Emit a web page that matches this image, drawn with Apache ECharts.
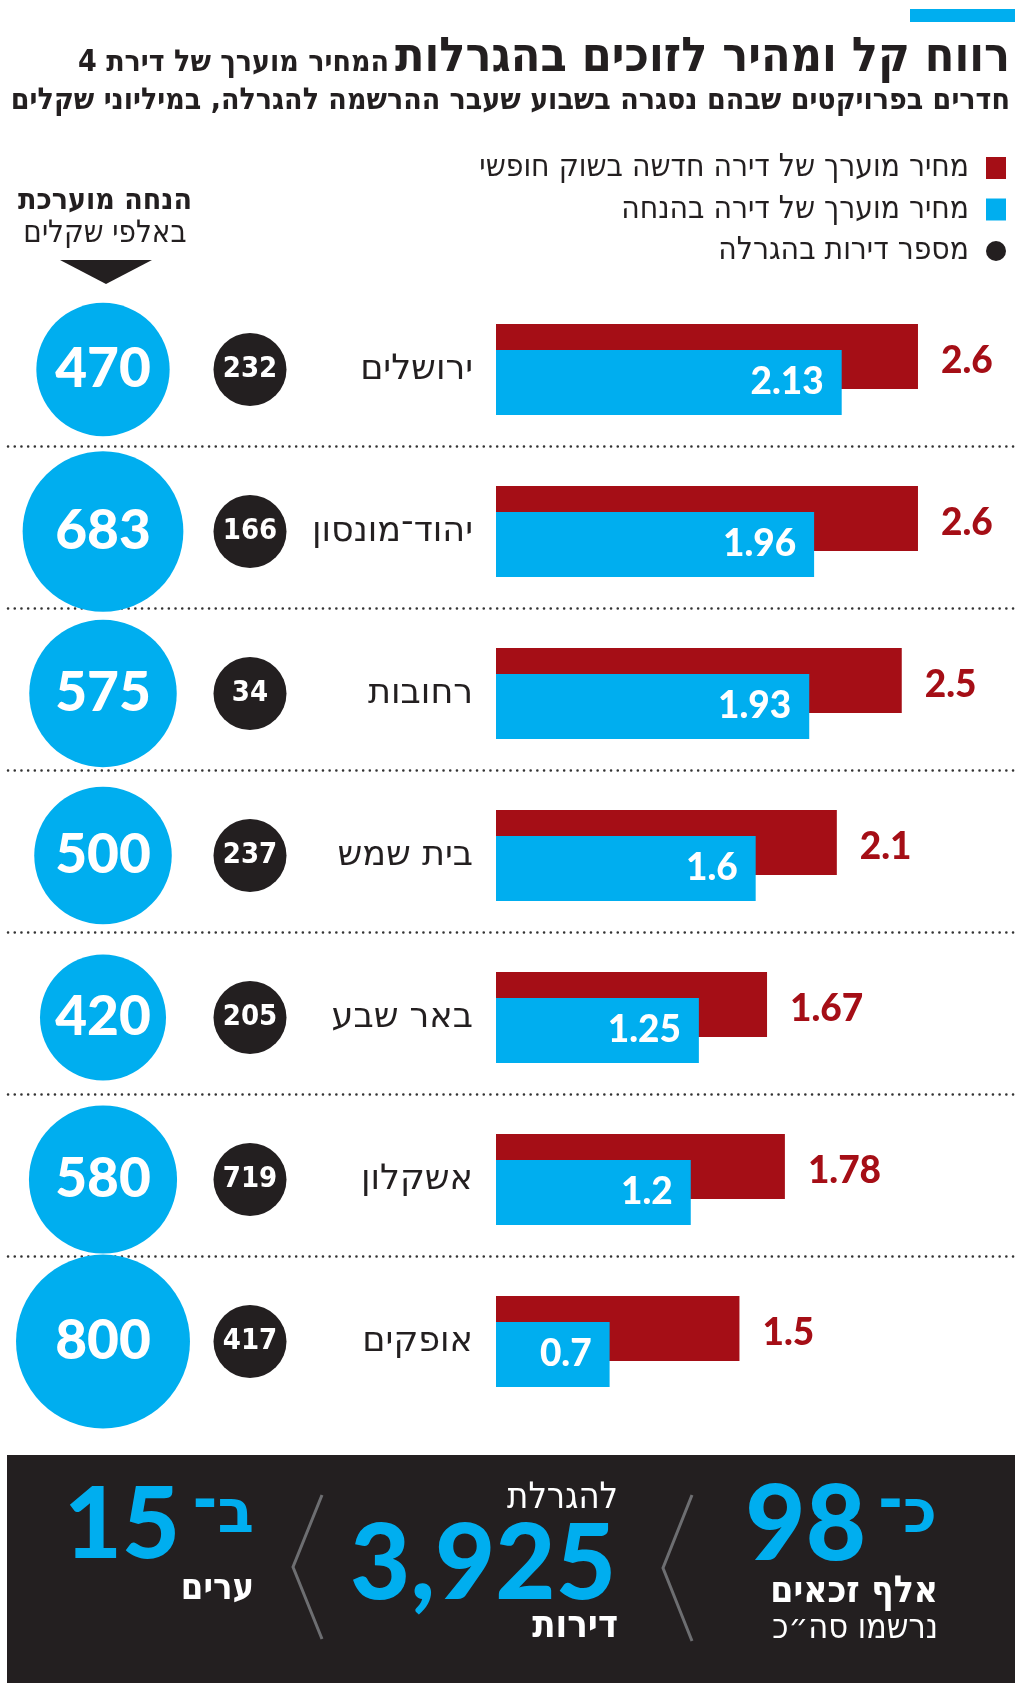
<!DOCTYPE html>
<html lang="he">
<head>
<meta charset="utf-8">
<script src="https://cdn.jsdelivr.net/npm/echarts@6/dist/echarts.min.js"></script>
<style>
html,body{margin:0;padding:0;background:#fff;}
#chart{width:1024px;height:1695px;}
</style>
</head>
<body>
<div id="chart"></div>
<script>
// ---------- data ----------
const cities = ['ירושלים', 'יהוד־מונסון', 'רחובות', 'בית שמש', 'באר שבע', 'אשקלון', 'אופקים'];
const marketPrice = [2.6, 2.6, 2.5, 2.1, 1.67, 1.78, 1.5];      // מחיר מוערך של דירה חדשה בשוק חופשי (מיליוני ש"ח)
const discountPrice = [2.13, 1.96, 1.93, 1.6, 1.25, 1.2, 0.7];  // מחיר מוערך של דירה בהנחה
const lotteryUnits = [232, 166, 34, 237, 205, 719, 417];        // מספר דירות בהגרלה
const discountThousands = [470, 683, 575, 500, 420, 580, 800];  // הנחה מוערכת באלפי שקלים
const circleColumns = ['הנחה מוערכת', 'מספר דירות'];

const seriesNames = ['מחיר מוערך של דירה חדשה בשוק חופשי', 'מחיר מוערך של דירה בהנחה', 'מספר דירות בהגרלה'];
const titleMain = 'רווח קל ומהיר לזוכים בהגרלות';
const titleSide = 'המחיר מוערך של דירת 4';
const titleLine2 = 'חדרים בפרויקטים שבהם נסגרה בשבוע שעבר ההרשמה להגרלה, במיליוני שקלים';

// ---------- styles ----------
const RED = '#a50e16', BLUE = '#00aeef', INK = '#231f20';
const HEB = '"DejaVu Sans Condensed", "DejaVu Sans", sans-serif';
const HEB_WIDE = '"DejaVu Sans", sans-serif';
const NUM = 'Lato, "Open Sans", sans-serif';

const chart = echarts.init(document.getElementById('chart'), null, {renderer: 'canvas', width: 1024, height: 1695});

const rowTop = 288.5, rowsH = 1134;

const option = {
  backgroundColor: '#fff',
  animation: false,
  title: {
    right: 9, top: 26,
    text: '{b|' + titleSide + '}{a|' + titleMain + '}\n{c|' + titleLine2 + '}',
    textStyle: {
      rich: {
        a: {fontFamily: HEB, fontWeight: 'bold', fontSize: 48, color: INK, lineHeight: 52, verticalAlign: 'bottom', align: 'right'},
        b: {fontFamily: HEB, fontWeight: 'bold', fontSize: 30, color: INK, lineHeight: 40, verticalAlign: 'bottom', align: 'right', padding: [0, 6, 5, 0]},
        c: {fontFamily: HEB, fontWeight: 'bold', fontSize: 30, color: INK, lineHeight: 36, align: 'right'}
      }
    }
  },
  legend: {
    data: [
      {name: seriesNames[0], icon: 'rect'},
      {name: seriesNames[1], icon: 'rect'},
      {name: seriesNames[2], icon: 'circle'}
    ],
    orient: 'vertical', right: 13, top: 147, align: 'right',
    itemWidth: 20, itemHeight: 22, itemGap: 9.5,
    textStyle: {fontFamily: HEB, fontSize: 31.5, lineHeight: 22, color: INK, padding: [0, 12, 0, 0]},
    selectedMode: false
  },
  grid: [
    {left: 496, top: rowTop, width: 3 * 162.3, height: rowsH},
    {left: 29.5, top: rowTop, width: 294, height: rowsH},
    {left: 8, right: 9, top: rowTop - 4, height: rowsH}
  ],
  xAxis: [
    {gridIndex: 0, type: 'value', min: 0, max: 3, show: false},
    {gridIndex: 1, type: 'category', data: circleColumns, show: false},
    {gridIndex: 2, type: 'value', min: 0, max: 1, show: false}
  ],
  yAxis: [
    {gridIndex: 0, type: 'category', data: cities, inverse: true,
      axisLine: {show: false}, axisTick: {show: false}, splitLine: {show: false},
      axisLabel: {margin: 23, fontFamily: HEB_WIDE, fontSize: 35, color: INK}},
    {gridIndex: 1, type: 'category', data: cities, inverse: true, show: false},
    {gridIndex: 2, type: 'category', data: cities, inverse: true,
      axisLine: {show: false}, axisTick: {show: false}, axisLabel: {show: false},
      splitLine: {show: true, showMinLine: false, showMaxLine: false,
        lineStyle: {color: '#333', width: 2.5, type: [0.1, 6.6], cap: 'round'}}}
  ],
  series: [
    {
      name: seriesNames[0], type: 'bar', xAxisIndex: 0, yAxisIndex: 0,
      data: marketPrice, barWidth: 65, barGap: '-60%',
      itemStyle: {color: RED},
      label: {show: true, position: 'right', distance: 23, offset: [0, 5],
        fontFamily: NUM, fontWeight: 900, fontSize: 37, color: RED}
    },
    {
      name: seriesNames[1], type: 'bar', xAxisIndex: 0, yAxisIndex: 0,
      data: discountPrice, barWidth: 65, barGap: '-60%',
      itemStyle: {color: BLUE},
      label: {show: true, position: 'insideRight', distance: 18,
        fontFamily: NUM, fontWeight: 900, fontSize: 37, color: '#fff'}
    },
    {
      name: seriesNames[2], type: 'scatter', xAxisIndex: 1, yAxisIndex: 1,
      data: lotteryUnits.map((v, i) => [circleColumns[1], cities[i], v]),
      symbolSize: 73, itemStyle: {color: INK, opacity: 1},
      label: {show: true, position: 'inside', formatter: p => p.value[2],
        fontFamily: '"Liberation Sans Narrow", "DejaVu Sans Condensed", sans-serif', fontWeight: 'bold', fontSize: 29, color: '#fff'}
    },
    {
      name: circleColumns[0], type: 'scatter', xAxisIndex: 1, yAxisIndex: 1,
      data: discountThousands.map((v, i) => [circleColumns[0], cities[i], v]),
      symbolSize: d => 6.15 * Math.sqrt(d[2]), itemStyle: {color: BLUE, opacity: 1},
      label: {show: true, position: 'inside', formatter: p => p.value[2],
        fontFamily: NUM, fontWeight: 900, fontSize: 55, color: '#fff'}
    }
  ],
  graphic: [
    {type: 'rect', shape: {x: 910, y: 9, width: 105, height: 13}, style: {fill: BLUE}},
    {type: 'text', x: 105, y: 201, style: {text: 'הנחה מוערכת', fontFamily: HEB, fontWeight: 'bold', fontSize: 30, fill: INK, align: 'center', verticalAlign: 'middle'}},
    {type: 'text', x: 105, y: 234, style: {text: 'באלפי שקלים', fontFamily: HEB, fontSize: 31, fill: INK, align: 'center', verticalAlign: 'middle'}},
    {type: 'polygon', shape: {points: [[60, 260], [152, 260], [106, 284]]}, style: {fill: INK}},
    // footer
    {type: 'rect', shape: {x: 7, y: 1455, width: 1008, height: 228}, style: {fill: INK}},
    {type: 'polyline', shape: {points: [[692, 1495], [663, 1568], [692, 1641]]}, style: {stroke: '#6d6e71', lineWidth: 3, fill: null}},
    {type: 'polyline', shape: {points: [[322, 1495], [293, 1567], [322, 1639]]}, style: {stroke: '#6d6e71', lineWidth: 3, fill: null}},
    {type: 'text', x: 937, y: 1516, style: {text: 'כ־', fontFamily: HEB_WIDE, fontWeight: 'bold', fontSize: 60, fill: BLUE, align: 'right', verticalAlign: 'middle'}},
    {type: 'text', x: 866, y: 1526, style: {text: '98', fontFamily: NUM, fontWeight: 900, fontSize: 104, fill: BLUE, align: 'right', verticalAlign: 'middle'}},
    {type: 'text', x: 938, y: 1592, style: {text: 'אלף זכאים', fontFamily: HEB, fontWeight: 'bold', fontSize: 37, fill: '#fff', align: 'right', verticalAlign: 'middle'}},
    {type: 'text', x: 938, y: 1629, style: {text: 'נרשמו סה״כ', fontFamily: HEB, fontSize: 34, fill: '#fff', align: 'right', verticalAlign: 'middle'}},
    {type: 'text', x: 618, y: 1499, style: {text: 'להגרלת', fontFamily: HEB, fontSize: 36, fill: '#fff', align: 'right', verticalAlign: 'middle'}},
    {type: 'text', x: 616, y: 1565, style: {text: '3,925', fontFamily: NUM, fontWeight: 900, fontSize: 104, fill: BLUE, align: 'right', verticalAlign: 'middle'}},
    {type: 'text', x: 618, y: 1627, style: {text: 'דירות', fontFamily: HEB, fontWeight: 'bold', fontSize: 38, fill: '#fff', align: 'right', verticalAlign: 'middle'}},
    {type: 'text', x: 254, y: 1516, style: {text: 'ב־', fontFamily: HEB_WIDE, fontWeight: 'bold', fontSize: 60, fill: BLUE, align: 'right', verticalAlign: 'middle'}},
    {type: 'text', x: 180, y: 1526, style: {text: '15', fontFamily: NUM, fontWeight: 900, fontSize: 100, fill: BLUE, align: 'right', verticalAlign: 'middle'}},
    {type: 'text', x: 254, y: 1590, style: {text: 'ערים', fontFamily: HEB, fontWeight: 'bold', fontSize: 36, fill: '#fff', align: 'right', verticalAlign: 'middle'}}
  ]
};
chart.setOption(option);
</script>
</body>
</html>
